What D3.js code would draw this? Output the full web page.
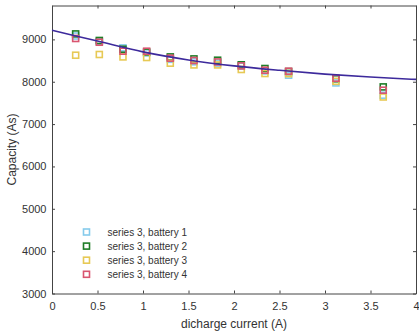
<!DOCTYPE html>
<html>
<head>
<meta charset="utf-8">
<script src="https://cdn.jsdelivr.net/npm/d3@7"></script>
<style>
  html, body { margin: 0; padding: 0; background: #fff; }
  svg { display: block; font-family: "Liberation Sans", Arial, sans-serif; }
</style>
</head>
<body>
<svg id="chart" width="419" height="335"></svg>
<script>
// Discharge currents (A) at which every battery was measured
const currents = [0.26, 0.52, 0.78, 1.04, 1.30, 1.56, 1.82, 2.08, 2.34, 2.60, 3.12, 3.64];

// Measured capacity (As) per battery
const battery1 = [9080, 8950, 8799, 8680, 8530, 8470, 8440, 8370, 8255, 8154, 7972, 7682];
const battery2 = [9129, 8974, 8768, 8700, 8586, 8539, 8508, 8400, 8312, 8240, 8070, 7878];
const battery3 = [8626, 8643, 8586, 8572, 8438, 8397, 8397, 8289, 8194, 8190, 8010, 7640];
const battery4 = [9021, 8933, 8721, 8721, 8556, 8501, 8468, 8374, 8272, 8249, 8083, 7800];

// Fitted capacity curve
const fitCurrent  = [0, 0.5, 1, 1.5, 2, 2.5, 3, 3.5, 4];
const fitCapacity = [9215, 8960, 8705, 8515, 8375, 8270, 8180, 8110, 8055];

const seriesNames  = ["series 3, battery 1", "series 3, battery 2", "series 3, battery 3", "series 3, battery 4"];
const seriesColors = ["#86cbec", "#1f7d27", "#e7c955", "#d95570"];
const seriesValues = [battery1, battery2, battery3, battery4];

const xTicks = [0, 0.5, 1, 1.5, 2, 2.5, 3, 3.5, 4];
const yTicks = [3000, 4000, 5000, 6000, 7000, 8000, 9000];

const svg = d3.select("#chart");
const plotLeft = 52, plotRight = 416, plotTop = 5.5, plotBottom = 293.5;
const axisColor = "#444";

const x = d3.scaleLinear().domain([0, 4]).range([plotLeft, plotRight]);
const y = d3.scaleLinear().domain([3000, 9800]).range([plotBottom, plotTop]);

// Axes on all four sides with inward ticks
const fmtX = d => String(d);
svg.append("g").attr("transform", `translate(0,${plotBottom})`)
  .call(d3.axisBottom(x).tickValues(xTicks).tickSizeInner(-3).tickSizeOuter(0).tickPadding(9).tickFormat(fmtX));
svg.append("g").attr("transform", `translate(0,${plotTop})`)
  .call(d3.axisTop(x).tickValues(xTicks).tickSizeInner(-3).tickSizeOuter(0).tickFormat(""));
svg.append("g").attr("transform", `translate(${plotLeft},0)`)
  .call(d3.axisLeft(y).tickValues(yTicks).tickSizeInner(-3).tickSizeOuter(0).tickPadding(5.5).tickFormat(d3.format("d")));
svg.append("g").attr("transform", `translate(${plotRight},0)`)
  .call(d3.axisRight(y).tickValues(yTicks).tickSizeInner(-3).tickSizeOuter(0).tickFormat(""));

svg.selectAll(".domain").attr("stroke", axisColor).attr("stroke-width", 1);
svg.selectAll(".tick line").attr("stroke", axisColor).attr("stroke-width", 1);
svg.selectAll(".tick text").attr("fill", "#333").attr("font-size", 11)
  .attr("font-family", "Liberation Sans, Arial, sans-serif");

// Axis titles
svg.append("text")
  .attr("x", (plotLeft + plotRight) / 2).attr("y", 328)
  .attr("text-anchor", "middle").attr("font-size", 12).attr("fill", "#333")
  .text("dicharge current (A)");
svg.append("text")
  .attr("transform", `translate(16,${(plotTop + plotBottom) / 2}) rotate(-90)`)
  .attr("text-anchor", "middle").attr("font-size", 12).attr("fill", "#333")
  .text("Capacity (As)");

// Measurement markers
const ms = 6;
seriesValues.forEach((vals, i) => {
  svg.append("g").selectAll("rect")
    .data(currents.map((c, k) => [c, vals[k]]))
    .join("rect")
    .attr("x", d => x(d[0]) - ms / 2)
    .attr("y", d => y(d[1]) - ms / 2)
    .attr("width", ms).attr("height", ms)
    .attr("fill", "none")
    .attr("stroke", seriesColors[i])
    .attr("stroke-width", 1.6);
});

// Fit curve
const fitLine = d3.line()
  .x(d => x(d[0])).y(d => y(d[1]))
  .curve(d3.curveMonotoneX);
svg.append("path")
  .datum(fitCurrent.map((c, k) => [c, fitCapacity[k]]))
  .attr("d", fitLine)
  .attr("fill", "none")
  .attr("stroke", "#3d2a9c")
  .attr("stroke-width", 1.6);

// Legend
const legendY0 = 232, legendStep = 14.1;
seriesNames.forEach((name, i) => {
  const ly = legendY0 + i * legendStep;
  svg.append("rect")
    .attr("x", 86.5 - ms / 2).attr("y", ly - ms / 2)
    .attr("width", ms).attr("height", ms)
    .attr("fill", "none").attr("stroke", seriesColors[i]).attr("stroke-width", 1.6);
  svg.append("text")
    .attr("x", 107.5).attr("y", ly + 3.6)
    .attr("font-size", 10).attr("fill", "#333")
    .text(name);
});
</script>
</body>
</html>
